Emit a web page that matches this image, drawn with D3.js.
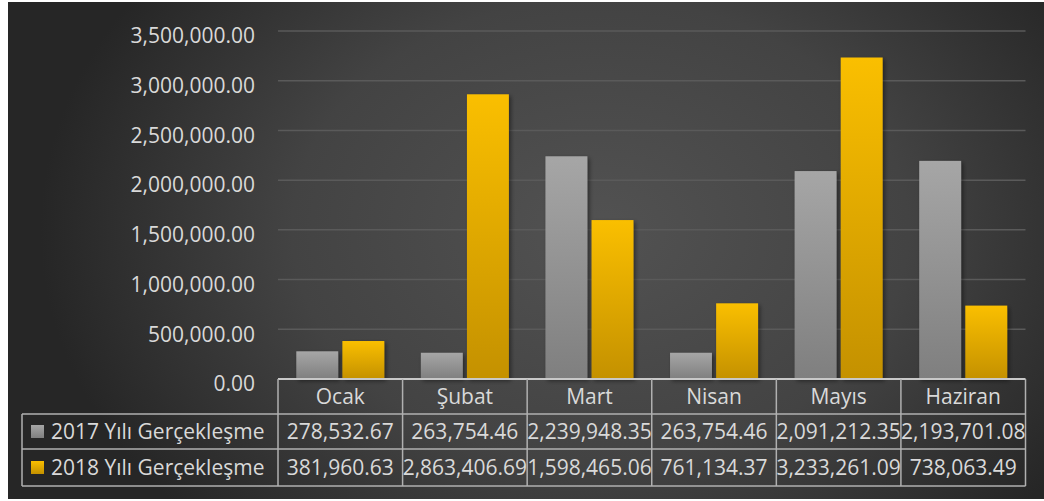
<!DOCTYPE html>
<html><head><meta charset="utf-8">
<script src="https://cdn.jsdelivr.net/npm/d3@7"></script>
<style>body{margin:0;background:#fff}svg{display:block}</style>
</head><body><svg id="c" width="1044" height="501"></svg>
<script>
const categories = ["Ocak","Şubat","Mart","Nisan","Mayıs","Haziran"];
const seriesNames = ["2017 Yılı Gerçekleşme","2018 Yılı Gerçekleşme"];
const values2017 = [278532.67,263754.46,2239948.35,263754.46,2091212.35,2193701.08];
const values2018 = [381960.63,2863406.69,1598465.06,761134.37,3233261.09,738063.49];
const yTicks = [0,500000,1000000,1500000,2000000,2500000,3000000,3500000];

const svg = d3.select("#c");
const defs = svg.append("defs");
const bg = defs.append("radialGradient").attr("id","bg").attr("gradientUnits","userSpaceOnUse")
  .attr("cx",600).attr("cy",230).attr("r",560).attr("gradientTransform","translate(600,230) scale(1,0.75) translate(-600,-230)");
bg.append("stop").attr("offset","0").attr("stop-color","#525252");
bg.append("stop").attr("offset","0.55").attr("stop-color","#434343");
bg.append("stop").attr("offset","1").attr("stop-color","#262626");
const g1 = defs.append("linearGradient").attr("id","gGray").attr("x1",0).attr("y1",0).attr("x2",0).attr("y2",1);
g1.append("stop").attr("offset","0").attr("stop-color","#a6a6a6");
g1.append("stop").attr("offset","1").attr("stop-color","#7f7f7f");
const g2 = defs.append("linearGradient").attr("id","gYel").attr("x1",0).attr("y1",0).attr("x2",0).attr("y2",1);
g2.append("stop").attr("offset","0").attr("stop-color","#fabf00");
g2.append("stop").attr("offset","1").attr("stop-color","#c49100");
const f = defs.append("filter").attr("id","sh").attr("x","-20%").attr("y","-20%").attr("width","150%").attr("height","150%");
f.append("feDropShadow").attr("dx",2).attr("dy",2).attr("stdDeviation",2).attr("flood-color","#000").attr("flood-opacity",0.45);

svg.append("rect").attr("x",8).attr("y",2).attr("width",1036).attr("height",497).attr("fill","url(#bg)");

const x0 = 278, x1 = 1025.5, yTop = 31, yBot = 379;
const x = d3.scaleBand().domain(categories).range([x0,x1]);
const y = d3.scaleLinear().domain([0,3500000]).range([yBot,yTop]);
const font = "'Open Sans', sans-serif";
const fs = 21;
const txt = "#d9d9d9";

// gridlines
svg.append("g").selectAll("line").data(yTicks.slice(1)).join("line")
  .attr("x1",x0).attr("x2",x1).attr("y1",d=>y(d)).attr("y2",d=>y(d))
  .attr("stroke","#5a5a5a").attr("stroke-width",1.5);

// y axis labels
const yAxis = d3.axisLeft(y).tickValues(yTicks).tickFormat(d3.format(",.2f")).tickSize(0).tickPadding(0);
const ya = svg.append("g").attr("transform",`translate(255,5)`).call(yAxis);
ya.select(".domain").remove();
ya.selectAll("text").attr("font-family",font).attr("font-size",fs).attr("fill",txt);

// bars
const bw = 40, gap = 8;
const series = [{name:seriesNames[0],vals:values2017,fill:"url(#gGray)"},{name:seriesNames[1],vals:values2018,fill:"url(#gYel)"}];
const inner = d3.scaleBand().domain([0,1]).range([0,bw*2+gap]).paddingInner(gap/(bw*2+gap));
series.forEach((s,si)=>{
  svg.append("g").attr("filter","url(#sh)").selectAll("rect").data(categories).join("rect")
    .attr("x",(c)=>x(c)+x.bandwidth()/2-(bw*2+gap)/2+inner(si))
    .attr("width",inner.bandwidth())
    .attr("y",(c,i)=>y(s.vals[i]))
    .attr("height",(c,i)=>yBot-y(s.vals[i]))
    .attr("fill",s.fill);
});

// data table
const rowY = [379,414,449,486];
const tLeft = 22;
const lc = "#b0b0b0";
const tg = svg.append("g").attr("stroke",lc).attr("stroke-width",1.5).attr("fill","none");
tg.append("line").attr("x1",x0).attr("x2",x1).attr("y1",rowY[0]).attr("y2",rowY[0]).attr("stroke","#c8c8c8").attr("stroke-width",2);
[1,2,3].forEach(i=>tg.append("line").attr("x1",tLeft).attr("x2",x1).attr("y1",rowY[i]).attr("y2",rowY[i]));
tg.append("line").attr("x1",tLeft).attr("x2",tLeft).attr("y1",rowY[1]).attr("y2",rowY[3]);
const vx = categories.map(c=>x(c)).concat([x1]);
tg.selectAll(".v").data(vx).join("line").attr("x1",d=>d).attr("x2",d=>d).attr("y1",rowY[0]).attr("y2",rowY[3]);

svg.append("g").selectAll("text").data(categories).join("text")
  .attr("x",c=>x(c)+x.bandwidth()/2).attr("y",(rowY[0]+rowY[1])/2+7)
  .attr("text-anchor","middle").attr("font-family",font).attr("font-size",fs).attr("fill",txt).text(c=>c);

const fmt = d3.format(",.2f");
series.forEach((s,si)=>{
  const cy = (rowY[si+1]+rowY[si+2])/2;
  svg.append("rect").attr("x",31).attr("y",cy-6.5).attr("width",13).attr("height",13).attr("fill",s.fill);
  svg.append("text").attr("x",51).attr("y",cy+7).attr("font-family",font).attr("font-size",fs).attr("fill",txt).text(s.name);
  svg.append("g").selectAll("text").data(categories).join("text")
    .attr("x",c=>x(c)+x.bandwidth()/2).attr("y",cy+7)
    .attr("text-anchor","middle").attr("font-family",font).attr("font-size",fs).attr("fill",txt)
    .text((c,i)=>fmt(s.vals[i]));
});
</script></body></html>
